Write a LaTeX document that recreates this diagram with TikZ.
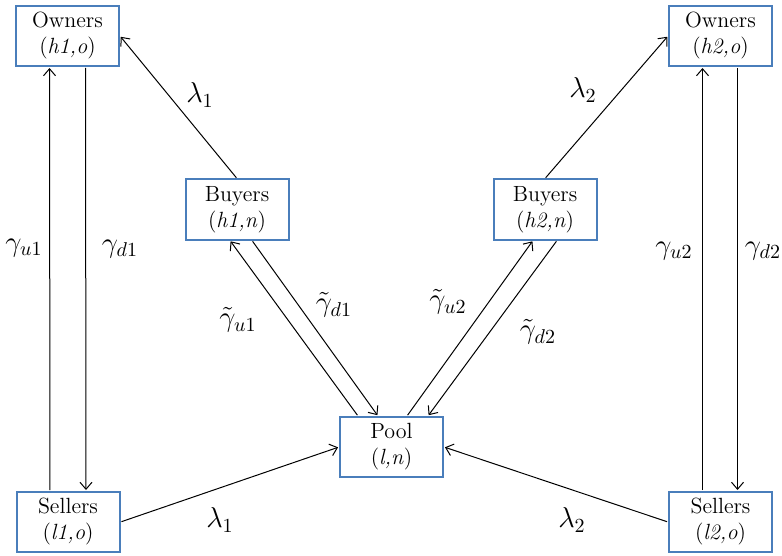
\documentclass[tikz,border=0pt]{standalone}
\usepackage{amsfonts, amssymb, amsmath}
\usepackage{tikz}
\usetikzlibrary{arrows.meta}
\usepackage{xcolor}
\definecolor{boxblue}{RGB}{74,126,187}

\begin{document}
\begin{tikzpicture}[
  x=0.5pt, y=-0.5pt,
  font=\fontsize{11}{13}\selectfont,
    agent/.style={draw=boxblue, line width=1pt, fill=white, align=center,
      minimum width=51.5pt, minimum height=30pt, inner sep=1pt},
    flow/.style={-{Straight Barb[length=3.5pt,width=6pt]}, line width=0.5pt,
      shorten >=0.5pt, shorten <=0.5pt},
    rate/.style={font=\fontsize{14.5}{16}\selectfont}
]
\useasboundingbox (0,0) rectangle (782,556);

% Nodes
\node[agent] (O1) at (67.5,36) {Owners\\(\textit{h1,o})};
\node[agent] (O2) at (720.5,36) {Owners\\(\textit{h2,o})};
\node[agent] (B1) at (237,209.5) {Buyers\\(\textit{h1,n})};
\node[agent] (B2) at (545,209.5) {Buyers\\(\textit{h2,n})};
\node[agent] (P) at (391.5,447) {Pool\\(\textit{l,n})};
\node[agent] (S1) at (68,522) {Sellers\\(\textit{l1,o})};
\node[agent] (S2) at (720.5,522) {Sellers\\(\textit{l2,o})};

% Edges (owners <-> sellers)
\draw[flow] ([xshift=-9pt]S1.north) -- ([xshift=-9pt]O1.south);
\draw[flow] ([xshift=9pt]O1.south) -- ([xshift=9pt]S1.north);
\draw[flow] ([xshift=-9pt]S2.north) -- ([xshift=-9pt]O2.south);
\draw[flow] ([xshift=8.5pt]O2.south) -- ([xshift=8.5pt]S2.north);

% Edges (buyers -> owners)
\draw[flow] (B1.north) -- (O1.east);
\draw[flow] (B2.north) -- (O2.west);

% Edges (pool <-> buyers)
\draw[flow] ([xshift=-16.75pt]P.north) -- ([xshift=-3.5pt]B1.south);
\draw[flow] ([xshift=7.5pt]B1.south) -- ([xshift=-6.75pt]P.north);
\draw[flow] ([xshift=7.75pt]P.north) -- ([xshift=-6pt]B2.south);
\draw[flow] ([xshift=6pt]B2.south) -- ([xshift=18.25pt]P.north);

% Edges (sellers -> pool)
\draw[flow] (S1.east) -- (P.west);
\draw[flow] (S2.west) -- (P.east);

% Rates
\node[rate] (l1a) at (200,95) {$\lambda_1$};
\node[rate] (l2a) at (583,90) {$\lambda_2$};
\node[rate] (l1b) at (220,520) {$\lambda_1$};
\node[rate] (l2b) at (572,520) {$\lambda_2$};
\node[rate] (gu1) at (24,248) {$\gamma_{u1}$};
\node[rate] (gd1) at (120,249) {$\gamma_{d1}$};
\node[rate] (gu2) at (674,251) {$\gamma_{u2}$};
\node[rate] (gd2) at (763,251) {$\gamma_{d2}$};
\node[rate] (tu1) at (238,320) {$\tilde{\gamma}_{u1}$};
\node[rate] (td1) at (334,305) {$\tilde{\gamma}_{d1}$};
\node[rate] (tu2) at (448,302) {$\tilde{\gamma}_{u2}$};
\node[rate] (td2) at (538,332) {$\tilde{\gamma}_{d2}$};

\end{tikzpicture}
\end{document}
